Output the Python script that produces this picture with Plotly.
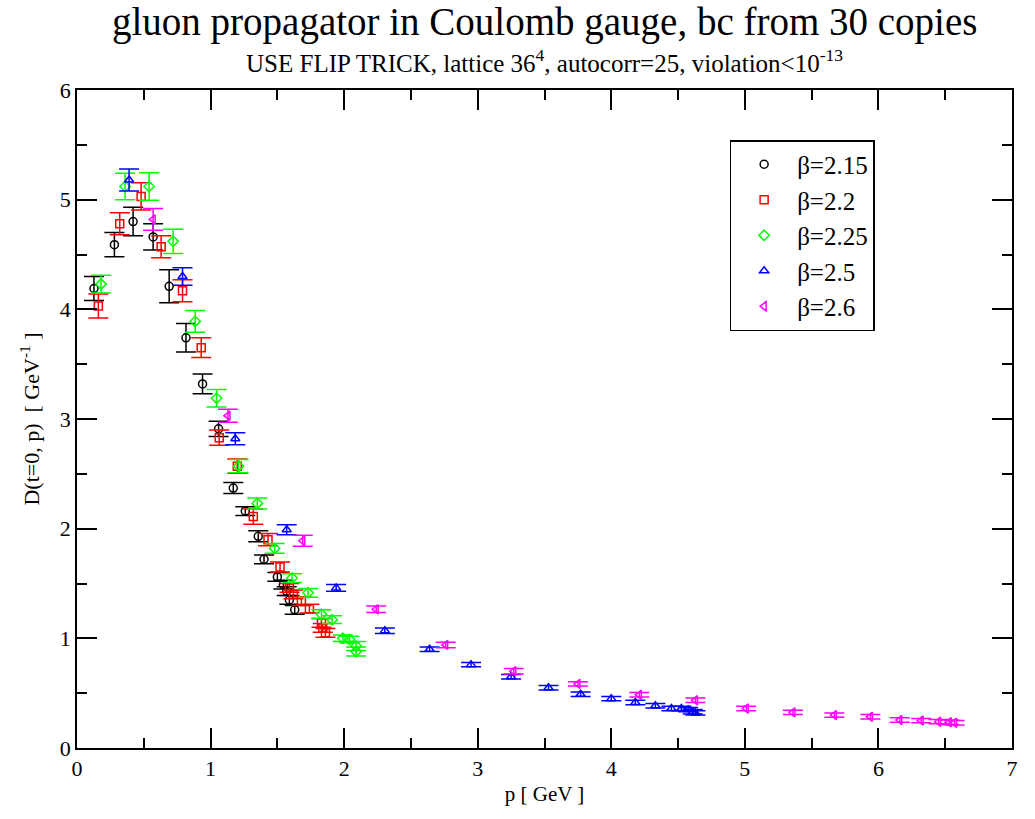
import plotly.graph_objects as go

# beta = 2.15
p_215 = [0.127, 0.28, 0.42, 0.57, 0.69, 0.816, 0.94, 1.06, 1.17, 1.26, 1.357, 1.40, 1.50, 1.545, 1.57, 1.59, 1.63]
d_215 = [4.19, 4.59, 4.80, 4.66, 4.21, 3.74, 3.32, 2.91, 2.37, 2.16, 1.93, 1.72, 1.56, 1.49, 1.43, 1.35, 1.26]
e_215 = [0.11, 0.11, 0.13, 0.12, 0.15, 0.13, 0.09, 0.07, 0.05, 0.04, 0.05, 0.04, 0.04, 0.04, 0.04, 0.04, 0.04]

# beta = 2.2
p_22 = [0.16, 0.32, 0.48, 0.63, 0.79, 0.93, 1.065, 1.20, 1.32, 1.43, 1.52, 1.59, 1.62, 1.68, 1.74, 1.83, 1.84, 1.86]
d_22 = [4.03, 4.78, 5.03, 4.57, 4.17, 3.65, 2.83, 2.57, 2.11, 1.90, 1.65, 1.46, 1.40, 1.34, 1.27, 1.14, 1.095, 1.05]
e_22 = [0.11, 0.10, 0.125, 0.10, 0.10, 0.09, 0.07, 0.065, 0.07, 0.055, 0.045, 0.04, 0.04, 0.04, 0.04, 0.04, 0.04, 0.04]

# beta = 2.25
p_225 = [0.18, 0.36, 0.54, 0.72, 0.885, 1.045, 1.21, 1.35, 1.48, 1.61, 1.73, 1.83, 1.91, 1.99, 2.04, 2.09, 2.09]
d_225 = [4.23, 5.12, 5.12, 4.62, 3.89, 3.19, 2.57, 2.23, 1.82, 1.55, 1.415, 1.22, 1.17, 1.00, 0.99, 0.93, 0.88]
e_225 = [0.08, 0.12, 0.125, 0.11, 0.10, 0.08, 0.06, 0.05, 0.045, 0.04, 0.04, 0.04, 0.035, 0.03, 0.03, 0.04, 0.04]

# beta = 2.5
p_25 = [0.39, 0.79, 1.185, 1.57, 1.94, 2.305, 2.64, 2.95, 3.25, 3.53, 3.77, 4.0, 4.18, 4.33, 4.45, 4.525, 4.575, 4.61, 4.63]
d_25 = [5.18, 4.30, 2.82, 1.99, 1.46, 1.07, 0.90, 0.76, 0.65, 0.55, 0.49, 0.45, 0.415, 0.385, 0.36, 0.36, 0.35, 0.33, 0.32]
e_25 = [0.10, 0.08, 0.055, 0.045, 0.03, 0.025, 0.02, 0.02, 0.02, 0.02, 0.02, 0.02, 0.02, 0.02, 0.02, 0.02, 0.02, 0.02, 0.02]

# beta = 2.6
p_26 = [0.57, 1.13, 1.69, 2.24, 2.76, 3.27, 3.75, 4.21, 4.63, 5.01, 5.36, 5.67, 5.94, 6.16, 6.32, 6.45, 6.53, 6.57]
d_26 = [4.82, 3.03, 1.89, 1.265, 0.94, 0.70, 0.585, 0.485, 0.435, 0.36, 0.325, 0.30, 0.285, 0.255, 0.25, 0.24, 0.235, 0.23]
e_26 = [0.10, 0.06, 0.05, 0.03, 0.025, 0.025, 0.02, 0.02, 0.02, 0.02, 0.02, 0.02, 0.02, 0.02, 0.02, 0.02, 0.02, 0.02]

series = [
    ("β=2.15", p_215, d_215, e_215, "black", "circle-open"),
    ("β=2.2", p_22, d_22, e_22, "#ff0000", "square-open"),
    ("β=2.25", p_225, d_225, e_225, "#00ff00", "diamond-open"),
    ("β=2.5", p_25, d_25, e_25, "#0000ff", "triangle-up-open"),
    ("β=2.6", p_26, d_26, e_26, "#ff00ff", "triangle-left-open"),
]

SERIF = "Liberation Serif"

fig = go.Figure()
for name, x, y, err, color, symbol in series:
    fig.add_trace(go.Scatter(
        x=x, y=y, name=name, mode="markers", legendgroup=name,
        marker=dict(symbol=symbol, size=8, color=color, line=dict(color=color, width=1.5)),
        error_y=dict(type="data", array=err, visible=True, color=color, thickness=1.5, width=10),
    ))

axis_common = dict(
    showgrid=False, zeroline=False, showline=True, linecolor="black", linewidth=1.5,
    mirror="ticks", ticks="inside", ticklen=20, tickwidth=1.5, tickcolor="black",
    tickfont=dict(family=SERIF, size=22, color="black"),
    minor=dict(ticks="inside", ticklen=10, tickwidth=1.5, tickcolor="black", dtick=0.5, showgrid=False),
)

fig.update_layout(
    width=1035, height=819,
    paper_bgcolor="white", plot_bgcolor="white",
    margin=dict(l=77, r=23, t=90, b=71),
    showlegend=True,
    legend=dict(
        x=0.698, y=0.924, xanchor="left", yanchor="top",
        bgcolor="white", bordercolor="black", borderwidth=1.5,
        font=dict(family=SERIF, size=25, color="black"),
        itemsizing="trace", itemwidth=56, traceorder="grouped", tracegroupgap=0,
    ),
    xaxis=dict(range=[0, 7], dtick=1, title=dict(text="p [ GeV ]", font=dict(family=SERIF, size=21, color="black"), standoff=6), **axis_common),
    yaxis=dict(range=[0, 6], dtick=1, title=dict(text="D(t=0, p)  [ GeV<sup>-1</sup> ]", font=dict(family=SERIF, size=22, color="black"), standoff=14), **axis_common),
    annotations=[
        dict(text="gluon propagator in Coulomb gauge, bc from 30 copies", xref="paper", yref="paper",
             x=0.5, y=1.0, yshift=68, showarrow=False, xanchor="center", yanchor="middle",
             font=dict(family=SERIF, size=39, color="black")),
        dict(text="USE FLIP TRICK, lattice 36<sup>4</sup>, autocorr=25, violation&lt;10<sup>-13</sup>",
             xref="paper", yref="paper", x=0.5, y=1.0, yshift=29, showarrow=False,
             xanchor="center", yanchor="middle",
             font=dict(family=SERIF, size=25, color="black")),
    ],
)

fig.write_html("out.html")
